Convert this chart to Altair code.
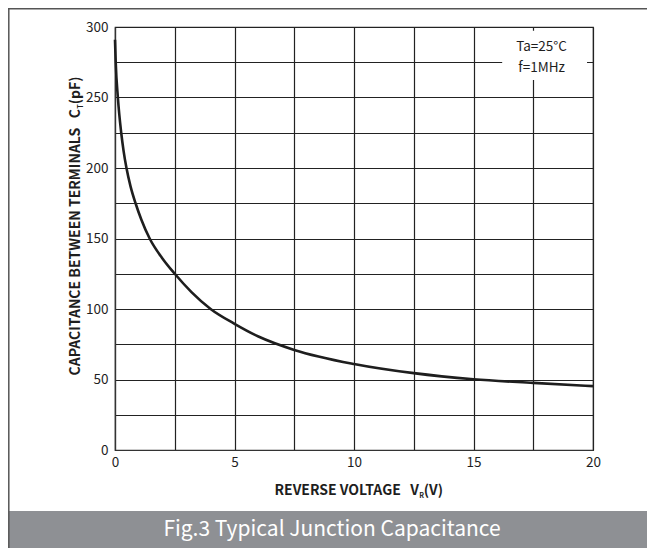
import altair as alt
import pandas as pd

# ---- data ----
voltage = [0, 0.03, 0.12, 0.26, 0.36, 0.48, 0.65, 0.86, 1.1, 1.45, 2.0, 2.5, 3.2,
           4.0, 5.0, 6.0, 7.5, 10.0, 12.5, 15.0, 17.5, 20.0]
capacitance = [291, 275, 250, 225, 212, 200, 187, 175, 163.5, 150, 135.5, 125, 112,
               100, 89.5, 80.5, 71, 61, 54.5, 50.2, 47.6, 45.3]

x_grid = [0, 2.5, 5, 7.5, 10, 12.5, 15, 17.5, 20]
y_grid = [0, 25, 50, 75, 100, 125, 150, 175, 200, 225, 250, 275, 300]

note_lines = ["Ta=25°C", "f=1MHz"]
note_x = [17.85, 17.85]
note_y = [285.8, 270.9]
note_box = {"x": [16.2], "x2": [19.75], "y": [297.3], "y2": [262.5]}

NB = "\u00a0"
x_title_main = "REVERSE VOLTAGE" + NB * 3 + "V"
x_title_sub = "R"
x_title_tail = "(V)"
y_title_main = "CAPACITANCE BETWEEN TERMINALS" + NB * 3 + "C"
y_title_sub = "T"
y_title_tail = "(pF)"
footer_text = "Fig.3 Typical Junction Capacitance"

FONT = "Noto Sans CJK SC"
INK = "#1e1e1e"
W, H = 478, 423
TS = 14      # axis title font size
SS = 7       # subscript font size

curve_df = pd.DataFrame({"V": voltage, "C": capacitance})
note_df = pd.DataFrame({"x": note_x, "y": note_y, "t": note_lines})
box_df = pd.DataFrame(note_box)
one = pd.DataFrame({"a": [0]})

xscale = alt.Scale(domain=[0, 20], nice=False)
yscale = alt.Scale(domain=[0, 300], nice=False)
xaxis = alt.Axis(values=x_grid, title=None, ticks=False, grid=True,
                 labelExpr="datum.value % 5 == 0 ? datum.label : ''",
                 labelPadding=5, labelFlush=False)
yaxis = alt.Axis(values=y_grid, title=None, ticks=False, grid=True,
                 labelExpr="datum.value % 50 == 0 ? datum.label : ''",
                 labelPadding=7, labelFlush=False)

curve = alt.Chart(curve_df).mark_line(
    color=INK, strokeWidth=2.6, interpolate="monotone"
).encode(
    x=alt.X("V:Q", scale=xscale, axis=xaxis),
    y=alt.Y("C:Q", scale=yscale, axis=yaxis),
)

box = alt.Chart(box_df).mark_rect(color="white").encode(
    x=alt.X("x:Q", scale=xscale, axis=xaxis), x2="x2:Q",
    y=alt.Y("y:Q", scale=yscale, axis=yaxis), y2="y2:Q",
)

notes = alt.Chart(note_df).mark_text(
    font=FONT, fontSize=13.5, color=INK, align="center", baseline="middle"
).encode(
    x=alt.X("x:Q", scale=xscale, axis=xaxis),
    y=alt.Y("y:Q", scale=yscale, axis=yaxis), text="t:N"
)

base = alt.Chart(one)

# x-axis title with subscript
xt1 = base.mark_text(font=FONT, fontSize=TS, fontWeight="bold", color=INK,
                     align="right", baseline="alphabetic").encode(
    x=alt.value(304), y=alt.value(468), text=alt.value(x_title_main))
xt2 = base.mark_text(font=FONT, fontSize=SS, fontWeight="bold", color=INK,
                     align="left", baseline="alphabetic").encode(
    x=alt.value(304.3), y=alt.value(470.5), text=alt.value(x_title_sub))
xt3 = base.mark_text(font=FONT, fontSize=TS, fontWeight="bold", color=INK,
                     align="left", baseline="alphabetic").encode(
    x=alt.value(308.8), y=alt.value(468), text=alt.value(x_title_tail))

# y-axis title with subscript (rotated)
yt1 = base.mark_text(font=FONT, fontSize=TS, fontWeight="bold", color=INK,
                     align="right", baseline="alphabetic", angle=270).encode(
    x=alt.value(-35), y=alt.value(82), text=alt.value(y_title_main))
yt2 = base.mark_text(font=FONT, fontSize=SS, fontWeight="bold", color=INK,
                     align="left", baseline="alphabetic", angle=270).encode(
    x=alt.value(-32.5), y=alt.value(81.7), text=alt.value(y_title_sub))
yt3 = base.mark_text(font=FONT, fontSize=TS, fontWeight="bold", color=INK,
                     align="left", baseline="alphabetic", angle=270).encode(
    x=alt.value(-35), y=alt.value(77.3), text=alt.value(y_title_tail))

# frame and footer
PR, PB = 54, 98
footer = base.mark_rect(color="#8e9094").encode(
    x=alt.value(-106), x2=alt.value(W + PR), y=alt.value(484), y2=alt.value(H + PB))
footer_t = base.mark_text(font=FONT, fontSize=21, color="white",
                          align="center", baseline="middle").encode(
    x=alt.value(217), y=alt.value(502.5), text=alt.value(footer_text))
left_border = base.mark_rule(color="#555", strokeWidth=1.5).encode(
    x=alt.value(-106.2), y=alt.value(-19), y2=alt.value(H + PB))
top_border = base.mark_rule(color="#555", strokeWidth=1.5).encode(
    x=alt.value(-107), x2=alt.value(W + PR), y=alt.value(-18.3))

chart = alt.layer(
    curve, box, notes, xt1, xt2, xt3, yt1, yt2, yt3,
    footer, footer_t, left_border, top_border
).properties(
    width=W, height=H,
    padding={"left": 107, "top": 19, "right": PR, "bottom": PB},
    autosize=alt.AutoSizeParams(type="none"),
    background="white",
).configure_view(
    stroke="#333", strokeWidth=1.2
).configure_axis(
    gridColor="#222", gridOpacity=1, gridWidth=1.2,
    domainColor="#333", domainWidth=1.2,
    labelFont=FONT, labelFontSize=13.5, labelColor=INK,
)

chart.save("out.html", embed_options={"renderer": "svg", "actions": False})
